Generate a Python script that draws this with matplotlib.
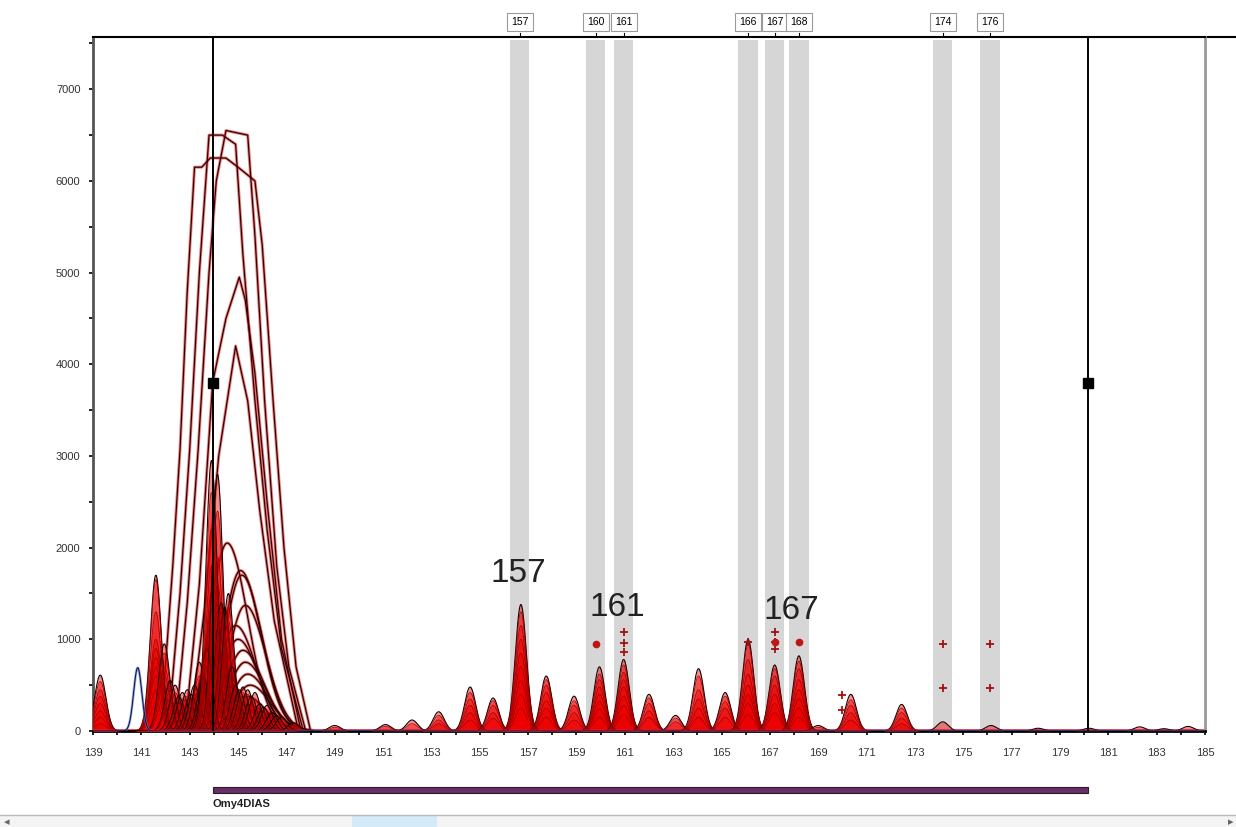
import numpy as np
import matplotlib.pyplot as plt
import matplotlib.transforms as mtransforms
from matplotlib.patches import Rectangle

plt.rcParams["font.family"] = ["Liberation Sans", "DejaVu Sans"]

# allele bins (bp) drawn as grey bands, with their names on top
bin_sizes = [156.65, 159.8, 160.95, 166.1, 167.2, 168.2, 174.15, 176.1]
bin_labels = ["157", "160", "161", "166", "167", "168", "174", "176"]

# allele calls written above the peaks
call_sizes = [156.65, 160.95, 167.2]
call_labels = ["157", "161", "167"]

# narrow peaks: size (bp) and the heights (RFU) of the overlaid samples
peak_sizes = [139.3, 141.6, 141.95, 142.2, 142.4, 142.55, 142.7, 142.9, 143.05,
              143.2, 143.4, 143.55, 143.7, 143.9, 144.15, 144.3, 144.45, 144.6,
              144.75, 144.9, 145.05, 145.2, 145.4, 145.55, 145.7, 145.9, 146.05,
              146.2, 146.4, 146.6, 146.8, 147.3, 149.0, 151.1, 152.2,
              153.3, 154.6, 155.55, 156.7, 157.75, 158.9, 159.95, 160.95,
              162.0, 163.1, 164.05, 165.15, 166.1, 167.2, 168.2, 169.0, 170.35,
              172.45, 174.15, 176.15, 178.1, 180.2, 182.3, 183.3, 184.3]
peak_heights = [
    [610, 540, 450, 380, 300, 220, 150, 80],
    [1700, 1650, 1300, 1000, 900, 800, 700, 600, 450, 300],
    [950, 850, 700, 600, 400],
    [550, 450, 350],
    [500, 420, 300],
    [380, 300, 220],
    [420, 350, 250],
    [450, 380, 300, 200],
    [400, 300, 220],
    [500, 400, 300],
    [750, 600, 450, 350],
    [600, 450, 350],
    [900, 700, 500, 400],
    [2950, 2600, 2200, 1800, 1500, 1350, 1200, 1000, 800, 600],
    [2800, 2400, 1900, 1600, 1400, 1300, 1100, 900, 700],
    [1400, 1350, 1300, 1200, 1000, 800],
    [1350, 1300, 1200, 1000, 800, 600],
    [1500, 1350, 1200, 1000, 800, 600],
    [700, 600, 500, 400],
    [500, 450, 400, 350, 300],
    [450, 380, 300],
    [480, 420, 350],
    [450, 400, 300, 200],
    [380, 300, 220],
    [420, 350, 250],
    [300, 250, 200, 150],
    [260, 200, 150],
    [280, 200, 150],
    [200, 150, 100],
    [170, 120],
    [150, 100],
    [90, 60],
    [60, 40],
    [70, 50],
    [120, 80],
    [210, 170, 120, 80],
    [480, 420, 350, 280, 200, 120],
    [360, 330, 280, 200, 140],
    [1380, 1300, 1150, 1000, 850, 700, 550, 400, 250],
    [600, 560, 500, 420, 330, 250, 150],
    [380, 330, 280, 200, 120],
    [700, 620, 560, 480, 400, 320, 240, 150],
    [780, 720, 640, 560, 480, 380, 280, 180],
    [400, 360, 300, 220, 150],
    [170, 140, 100],
    [680, 600, 450, 350, 250, 150],
    [420, 380, 320, 250, 150],
    [1000, 950, 780, 620, 500, 400, 300, 180],
    [720, 680, 600, 500, 400, 300, 200],
    [820, 760, 680, 560, 450, 350, 250, 150],
    [60, 40],
    [400, 340, 280, 200, 120],
    [290, 250, 200, 140, 80],
    [100],
    [60],
    [30],
    [30],
    [45],
    [25],
    [50],
]

# the one blue-dye peak
blue_size = 140.85
blue_height = 690

# broad stutter humps around 145 bp: centre, height
hump_sizes = [144.55, 145.1, 145.15, 145.3, 144.9, 145.0, 145.2, 145.3, 145.4,
              145.5, 145.3, 145.4]
hump_heights = [2050, 1750, 1700, 1370, 1150, 1000, 880, 750, 620, 500, 380, 280]

# saturated off-scale traces, read point by point (bp, RFU)
big_sizes = [
    [141.8, 142.3, 142.6, 142.9, 143.2, 143.5, 143.85, 144.5, 145.0, 145.7,
     146.0, 146.45, 146.9, 147.4, 148.0],
    [142.1, 142.6, 143.0, 143.4, 143.8, 144.35, 144.9, 145.2, 145.7, 146.2,
     146.8, 147.7],
    [142.4, 142.9, 143.35, 143.8, 144.1, 144.5, 145.4, 145.7, 146.1, 146.6,
     147.1, 147.8],
    [142.8, 143.4, 143.95, 144.5, 145.05, 145.3, 145.7, 146.2, 146.8, 147.6],
    [143.0, 143.6, 144.2, 144.9, 145.4, 145.9, 146.5, 147.5],
]
big_rfu = [
    [0, 1800, 3070, 4800, 6150, 6150, 6250, 6250, 6150, 6000, 5300, 3600, 2000,
     700, 0],
    [0, 1500, 3070, 5000, 6500, 6500, 6400, 5200, 3600, 2200, 900, 0],
    [0, 1400, 3070, 5000, 6000, 6550, 6500, 5400, 3600, 1800, 700, 0],
    [0, 1600, 3800, 4500, 4950, 4700, 3900, 2500, 1000, 0],
    [0, 1300, 3000, 4200, 3600, 2400, 1200, 0],
]

# peak call markers
plus_sizes = [160.95, 160.95, 160.95, 166.1, 167.2, 167.2, 167.2, 170.0, 170.0,
              174.15, 174.15, 176.1, 176.1]
plus_rfu = [1080, 960, 860, 975, 1080, 970, 890, 390, 230, 950, 470, 950, 470]
dot_sizes = [159.8, 167.2, 168.2]
dot_rfu = [950, 970, 970]

# marker range of the locus
locus_name = "Omy4DIAS"
locus_start = 143.95
locus_end = 180.15
locus_marker_rfu = 3800

x = np.linspace(139, 185, 4000)
W, H = 1236, 827
fig = plt.figure(figsize=(W / 100, H / 100), dpi=100)
ax = fig.add_axes([93 / W, (H - 731) / H, 1112 / W, 694 / H])
ax.set_xlim(139, 185)
ax.set_ylim(0, 7570)

for s in bin_sizes:
    ax.axvspan(s - 0.4, s + 0.4, ymax=0.995, color="#d6d6d6", lw=0, zorder=0)

def trace(xs, ys):
    # dark trace with the reddish halo of the overlaid dye colour
    ax.plot(xs, ys, color="#f04a4a", lw=2.2, alpha=0.7, zorder=2)
    ax.plot(xs, ys, color="#2a0404", lw=0.9, zorder=3)

# broad humps
for c, h in zip(hump_sizes, hump_heights):
    sig = np.where(x < c, 0.7, 0.85)
    trace(x, h * np.exp(-0.5 * ((x - c) / sig) ** 2))

# off-scale traces
for xs, ys in zip(big_sizes, big_rfu):
    trace(xs, ys)

# narrow peaks of every sample
for c, hs in zip(peak_sizes, peak_heights):
    for i, h in enumerate(hs):
        y = h * np.exp(-0.5 * ((x - c) / 0.23) ** 2)
        ax.fill_between(x, y, color="#ee0000", alpha=0.45, lw=0, zorder=4)
        ax.plot(x, y, color="#1a0000" if i == 0 else "#a00000",
                lw=0.8 if i == 0 else 0.5, zorder=5)

y = blue_height * np.exp(-0.5 * ((x - blue_size) / 0.17) ** 2)
ax.plot(x, y, color="#5a80e0", lw=1.8, alpha=0.7, zorder=5)
ax.plot(x, y, color="#101030", lw=0.7, zorder=5)

ax.plot(plus_sizes, plus_rfu, "+", color="#a01010", ms=6, mew=1.3, zorder=6)
ax.plot(dot_sizes, dot_rfu, "o", color="#c01515", ms=4.5, zorder=6)

# locus boundaries
for s in (locus_start, locus_end):
    ax.axvline(s, color="black", lw=1.4, zorder=7)
    ax.plot([s], [locus_marker_rfu], "s", color="black", ms=7, zorder=8)

ax.text(call_sizes[0] - 0.05, 1720, call_labels[0], fontsize=24, ha="center",
        va="center", color="#222", zorder=9)
ax.text(call_sizes[1] - 0.25, 1350, call_labels[1], fontsize=24, ha="center",
        va="center", color="#222", zorder=9)
ax.text(call_sizes[2] + 0.7, 1310, call_labels[2], fontsize=24, ha="center",
        va="center", color="#222", zorder=9)

# bin name boxes above the frame
tr = mtransforms.blended_transform_factory(ax.transData, ax.transAxes)
for s, lab in zip(bin_sizes, bin_labels):
    ax.text(s, 1.022, lab, transform=tr, fontsize=7.5, ha="center", va="center",
            bbox=dict(boxstyle="square,pad=0.4", fc="white", ec="#9a9a9a", lw=0.8),
            clip_on=False, zorder=10)
    ax.plot([s, s], [1.0, 1.006], transform=tr, color="black", lw=0.8,
            clip_on=False)
ax.plot([185, 186.5], [1, 1], transform=tr, color="black", lw=1.5, clip_on=False)

ax.set_xticks(np.arange(139, 186, 2))
ax.set_xticks(np.arange(140, 185, 2), minor=True)
ax.set_yticks(np.arange(0, 7001, 1000))
ax.set_yticks(np.arange(500, 7600, 1000), minor=True)
ax.tick_params(axis="both", which="both", labelsize=8, labelcolor="#333",
               length=3, width=1.2, direction="out")
ax.tick_params(axis="x", pad=9)
ax.tick_params(axis="y", pad=6)
for side, col, lw in [("left", "#555555", 2), ("bottom", "black", 2),
                      ("top", "black", 1.5), ("right", "#999999", 2)]:
    ax.spines[side].set_color(col)
    ax.spines[side].set_linewidth(lw)

# locus bar below the axis
ax2 = fig.add_axes([93 / W, 15 / H, 1112 / W, 37 / H])
ax2.set_xlim(139, 185)
ax2.set_ylim(0, 1)
ax2.axis("off")
ax2.add_patch(Rectangle((locus_start, 0.52), locus_end - locus_start, 0.15,
                        fc="#6a2c6a", ec="#222222", lw=0.8))
ax2.text(locus_start, 0.22, locus_name, fontsize=8, fontweight="bold",
         ha="left", va="center", color="#222")

# scroll bar strip
fig.patches.append(Rectangle((0, 0), 1, 12 / H, transform=fig.transFigure,
                             fc="#f4f4f4", ec="none"))
fig.patches.append(Rectangle((352 / W, 0), 85 / W, 12 / H, transform=fig.transFigure,
                             fc="#d4eaf8", ec="none"))
fig.lines.append(plt.Line2D([0, 1], [12 / H, 12 / H], transform=fig.transFigure,
                            color="#b8b8b8", lw=1))
fig.text(4 / W, 5 / H, "\u25c2", fontsize=8, color="#666", va="center")
fig.text(1228 / W, 5 / H, "\u25b8", fontsize=8, color="#666", va="center")

fig.savefig("out.png", dpi=100, facecolor="white")
